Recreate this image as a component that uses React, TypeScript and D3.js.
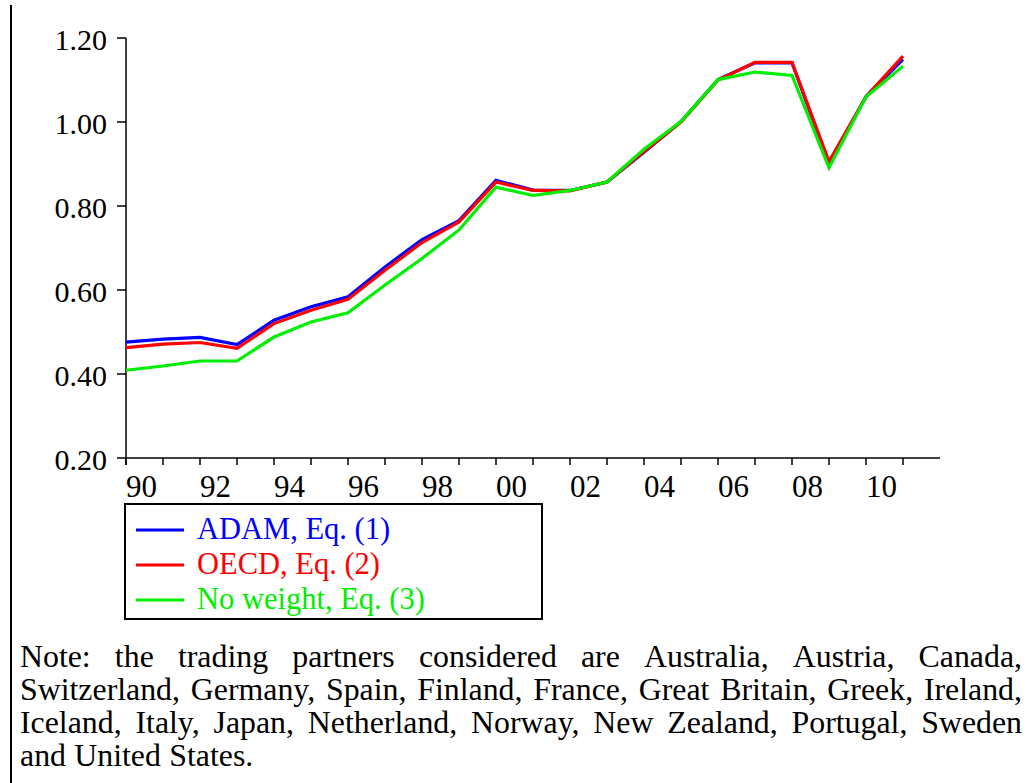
import React, { useEffect, useRef } from "react";
import * as d3 from "d3";

// Years 1990–2011
const years: number[] = d3.range(1990, 2012);

const adam: number[] = [
  0.476, 0.483, 0.487, 0.470, 0.528, 0.560, 0.584, 0.655, 0.720, 0.765, 0.861,
  0.838, 0.837, 0.857, 0.928, 1.001, 1.101, 1.141, 1.141, 0.900, 1.061, 1.149,
];
const oecd: number[] = [
  0.463, 0.471, 0.475, 0.461, 0.520, 0.552, 0.578, 0.647, 0.713, 0.762, 0.857,
  0.837, 0.836, 0.857, 0.930, 1.000, 1.100, 1.142, 1.142, 0.906, 1.060, 1.157,
];
const noWeight: number[] = [
  0.409, 0.419, 0.431, 0.431, 0.488, 0.524, 0.546, 0.612, 0.675, 0.743, 0.845,
  0.825, 0.837, 0.857, 0.935, 1.001, 1.101, 1.119, 1.111, 0.891, 1.060, 1.133,
];

const seriesNames: string[] = ["ADAM, Eq. (1)", "OECD, Eq. (2)", "No weight, Eq. (3)"];
const seriesColors: string[] = ["#0000FF", "#FF0000", "#00EE00"];
const seriesValues: number[][] = [adam, oecd, noWeight];

const yTicks: number[] = [0.2, 0.4, 0.6, 0.8, 1.0, 1.2];
const xLabelYears: number[] = [1990, 1992, 1994, 1996, 1998, 2000, 2002, 2004, 2006, 2008, 2010];

const noteLines: string[] = [
  "Note: the trading partners considered are Australia, Austria, Canada,",
  "Switzerland, Germany, Spain, Finland, France, Great Britain, Greek, Ireland,",
  "Iceland, Italy, Japan, Netherland, Norway, New Zealand, Portugal, Sweden",
  "and United States.",
];

const FONT = "'Liberation Serif', 'Times New Roman', serif";

export default function App() {
  const noteRef = useRef<SVGGElement | null>(null);

  const x = d3.scaleLinear().domain([1990, 2012]).range([126, 940]);
  const y = d3.scaleLinear().domain([0.2, 1.2]).range([458, 38]);
  const line = d3
    .line<number>()
    .x((_, i) => x(years[i]))
    .y((d) => y(d));

  // Justified note text: each full line spans the block width
  useEffect(() => {
    const sx = 0.98;
    const g = d3.select(noteRef.current).attr("transform", `scale(${sx},1)`);
    g.selectAll("*").remove();
    const left = 20 / sx;
    const right = 1022 / sx;
    const top = 667;
    const lh = 33;
    noteLines.forEach((ln, li) => {
      const words = ln.split(" ");
      const nodes = words.map((w) =>
        g
          .append("text")
          .attr("y", top + li * lh)
          .attr("font-family", FONT)
          .attr("font-size", 32.5)
          .attr("fill", "#000")
          .text(w)
      );
      const widths = nodes.map((n) => (n.node() as SVGTextElement).getComputedTextLength());
      const total = d3.sum(widths);
      const last = li === noteLines.length - 1;
      const gap = last ? 8.5 : (right - left - total) / (words.length - 1);
      let cx = left;
      nodes.forEach((n, i) => {
        n.attr("x", cx);
        cx += widths[i] + gap;
      });
    });
  }, []);

  return (
    <div style={{ position: "absolute", left: 0, top: 0 }}>
      <svg width={1032} height={783} style={{ display: "block", background: "#fff" }}>
        <rect x={0} y={0} width={1032} height={783} fill="#fff" />
        {/* left frame rule */}
        <line x1={11} x2={11} y1={5} y2={783} stroke="#000" strokeWidth={2} />

        {/* y axis */}
        <line x1={x(1990)} x2={x(1990)} y1={y(1.2)} y2={y(0.2) + 7} stroke="#000" strokeWidth={1.5} />
        {yTicks.map((t) => (
          <g key={t}>
            <line x1={x(1990) - 9} x2={x(1990)} y1={y(t)} y2={y(t)} stroke="#000" strokeWidth={1.5} />
            <text
              x={107}
              y={y(t) + 12}
              textAnchor="end"
              fontFamily={FONT}
              fontSize={30}
              fill="#000"
            >
              {d3.format(".2f")(t)}
            </text>
          </g>
        ))}

        {/* x axis */}
        <line x1={x(1990)} x2={x(2012)} y1={y(0.2)} y2={y(0.2)} stroke="#000" strokeWidth={1.5} />
        {years.map((yr) => (
          <line key={yr} x1={x(yr)} x2={x(yr)} y1={y(0.2)} y2={y(0.2) + 7} stroke="#000" strokeWidth={1.5} />
        ))}
        {xLabelYears.map((yr) => (
          <text key={yr} x={x(yr)} y={y(0.2) + 39} fontFamily={FONT} fontSize={31} fill="#000">
            {String(yr % 100).padStart(2, "0")}
          </text>
        ))}

        {/* series */}
        {seriesValues.map((vals, i) => (
          <path
            key={i}
            d={line(vals) || ""}
            fill="none"
            stroke={seriesColors[i]}
            strokeWidth={3.2}
            strokeLinejoin="miter"
          />
        ))}

        {/* legend */}
        <rect x={125} y={504} width={417} height={115} fill="#fff" stroke="#000" strokeWidth={2} />
        {seriesNames.map((name, i) => {
          const ry = 530 + i * 35;
          return (
            <g key={name}>
              <line x1={136} x2={184} y1={ry} y2={ry} stroke={seriesColors[i]} strokeWidth={3} />
              <text x={197} y={ry + 9} fontFamily={FONT} fontSize={30.5} fill={seriesColors[i]}>
                {name}
              </text>
            </g>
          );
        })}

        <g ref={noteRef} />
      </svg>
    </div>
  );
}
